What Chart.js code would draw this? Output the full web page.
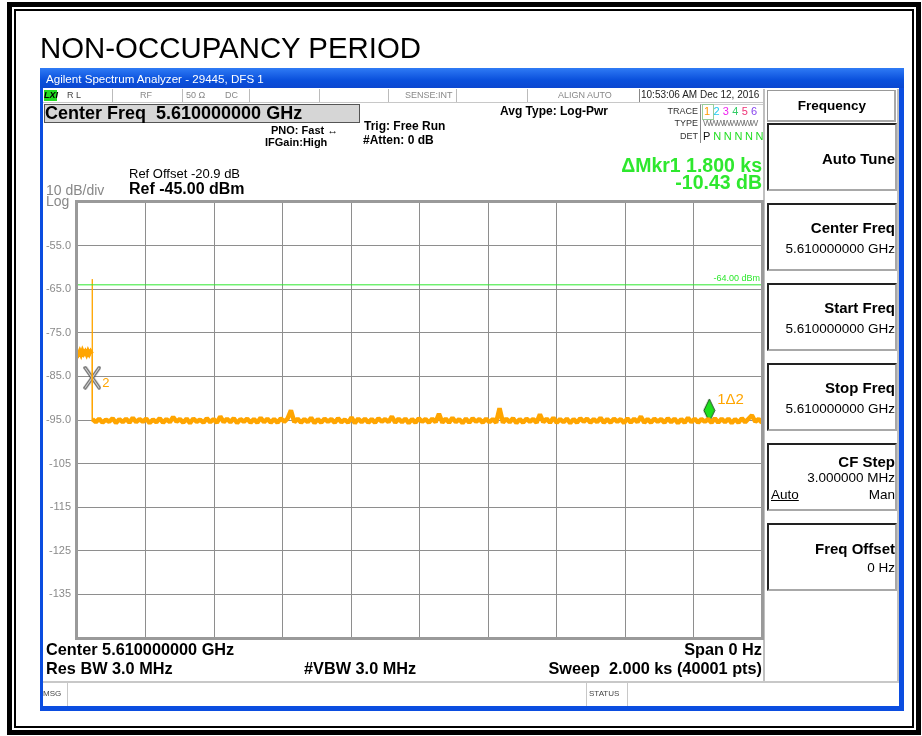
<!DOCTYPE html>
<html>
<head>
<meta charset="utf-8">
<title>Non-occupancy period</title>
<script src="https://cdn.jsdelivr.net/npm/chart.js@4.4.1/dist/chart.umd.min.js"></script>
<style>
  body { margin: 0; width: 922px; height: 736px; overflow: hidden; background: #fff; font-family: "Liberation Sans", Arial, sans-serif; }
  .abs { position: absolute; }
  .t { position: absolute; line-height: 1; white-space: nowrap; z-index: 3; }
  .b { font-weight: bold; }
  .key { position: absolute; left: 767px; width: 126px; background: #fff; border-top: 2px solid #222; border-left: 2px solid #222; border-bottom: 2px solid #a8a8a8; border-right: 2px solid #a8a8a8; z-index: 2; }
  #chartBox { position: absolute; left: 0; top: 0; width: 922px; height: 736px; z-index: 2; }
</style>
</head>
<body>
<!-- outer double frame -->
<div class="abs" style="left:7px;top:2px;width:914px;height:733px;box-sizing:border-box;border:5px solid #000;"></div>
<div class="abs" style="left:14px;top:9px;width:900px;height:719px;box-sizing:border-box;border:2px solid #000;"></div>

<div class="t" style="left:40px;top:33px;font-size:29.4px;">NON-OCCUPANCY PERIOD</div>

<!-- analyzer window -->
<div class="abs" style="left:40px;top:68px;width:864px;height:643px;background:#0b4de0;"></div>
<div class="abs" style="left:40px;top:68px;width:864px;height:20px;background:linear-gradient(#2f7bf5,#0a50dc 60%,#0b47d0);"></div>
<div class="abs" style="left:43px;top:88px;width:856px;height:618px;background:#fff;"></div>
<div class="t" style="left:46px;top:72.5px;font-size:11.6px;color:#fff;">Agilent Spectrum Analyzer - 29445, DFS 1</div>

<!-- status row -->
<div class="abs" style="left:43px;top:89px;width:721px;height:13px;border-bottom:1px solid #c8c8c8;"></div>
<div class="abs" style="left:44px;top:90px;width:13px;height:11px;background:#22dd22;"></div>
<div class="t b" style="left:44px;top:91px;font-size:9px;font-style:italic;">LXI</div>
<div class="t" style="left:67px;top:91px;font-size:9px;color:#444;">R L</div>
<div class="abs" style="left:112px;top:89px;width:1px;height:13px;background:#bbb;"></div>
<div class="t" style="left:140px;top:91px;font-size:9px;color:#888;">RF</div>
<div class="abs" style="left:182px;top:89px;width:1px;height:13px;background:#bbb;"></div>
<div class="t" style="left:186px;top:91px;font-size:9px;color:#888;">50 Ω</div>
<div class="t" style="left:225px;top:91px;font-size:9px;color:#888;">DC</div>
<div class="abs" style="left:249px;top:89px;width:1px;height:13px;background:#bbb;"></div>
<div class="abs" style="left:319px;top:89px;width:1px;height:13px;background:#bbb;"></div>
<div class="abs" style="left:388px;top:89px;width:1px;height:13px;background:#bbb;"></div>
<div class="t" style="left:405px;top:91px;font-size:9px;color:#888;">SENSE:INT</div>
<div class="abs" style="left:456px;top:89px;width:1px;height:13px;background:#bbb;"></div>
<div class="abs" style="left:527px;top:89px;width:1px;height:13px;background:#bbb;"></div>
<div class="t" style="left:558px;top:91px;font-size:9px;color:#888;">ALIGN AUTO</div>
<div class="abs" style="left:639px;top:89px;width:1px;height:13px;background:#888;"></div>
<div class="t" style="left:641px;top:90px;font-size:10px;color:#222;">10:53:06 AM Dec 12, 2016</div>

<!-- header readouts -->
<div class="abs" style="left:44px;top:104px;width:314px;height:17px;background:#d6d6d6;border:1px solid #555;"></div>
<div class="t b" style="left:45px;top:104px;font-size:18px;">Center Freq&nbsp; 5.610000000 GHz</div>
<div class="t b" style="left:271px;top:124.5px;font-size:11px;">PNO: Fast ↔</div>
<div class="t b" style="left:265px;top:136.5px;font-size:11px;">IFGain:High</div>
<div class="t b" style="left:364px;top:120px;font-size:12px;">Trig: Free Run</div>
<div class="t b" style="left:363px;top:134px;font-size:12px;">#Atten: 0 dB</div>
<div class="t b" style="left:500px;top:105px;font-size:12px;">Avg Type: Log-Pwr</div>

<div class="t" style="right:224px;top:106.5px;font-size:9px;color:#333;">TRACE</div>
<div class="t" style="right:224px;top:119px;font-size:9px;color:#333;">TYPE</div>
<div class="t" style="right:224px;top:131.5px;font-size:9px;color:#333;">DET</div>
<div class="abs" style="left:700px;top:104px;width:64px;height:38px;border-left:1px solid #888;border-top:1px solid #ccc;"></div>
<div class="abs" style="left:702px;top:104px;width:10px;height:14px;border:1px solid #9c9;"></div>
<div class="t" style="left:704px;top:105.5px;font-size:11px;letter-spacing:3.3px;"><span style="color:#ff9900">1</span><span style="color:#22ccee">2</span><span style="color:#ee22ee">3</span><span style="color:#33cc66">4</span><span style="color:#ee3377">5</span><span style="color:#8844ee">6</span></div>
<div class="t" style="left:703px;top:118.5px;font-size:9px;color:#777;letter-spacing:-1.8px;">WWWWWWWW</div>
<div class="t" style="left:703px;top:131px;font-size:11px;color:#111;">P <span style="color:#22dd22;letter-spacing:-0.2px;">N N N N N</span></div>

<div class="t b" style="right:160px;top:155.5px;font-size:19.5px;color:#2ee82e;">ΔMkr1 1.800 ks</div>
<div class="t b" style="right:160px;top:172.5px;font-size:19.5px;color:#2ee82e;">-10.43 dB</div>
<div class="t" style="left:129px;top:166.5px;font-size:13px;">Ref Offset -20.9 dB</div>
<div class="t b" style="left:129px;top:180.5px;font-size:16px;">Ref -45.00 dBm</div>
<div class="t" style="left:46px;top:183px;font-size:14px;color:#888;">10 dB/div</div>
<div class="t" style="left:46px;top:194px;font-size:14px;color:#888;">Log</div>

<!-- bottom readouts -->
<div class="t b" style="left:46px;top:641px;font-size:16.3px;">Center 5.610000000 GHz</div>
<div class="t b" style="left:46px;top:660px;font-size:16.3px;">Res BW 3.0 MHz</div>
<div class="t b" style="left:304px;top:660px;font-size:16.3px;">#VBW 3.0 MHz</div>
<div class="t b" style="right:160px;top:641px;font-size:16.3px;">Span 0 Hz</div>
<div class="t b" style="right:160px;top:660px;font-size:16.3px;">Sweep&nbsp; 2.000 ks (40001 pts)</div>

<div class="abs" style="left:43px;top:681px;width:856px;height:2px;background:#c8c8c8;"></div>
<div class="abs" style="left:67px;top:683px;width:1px;height:23px;background:#c8c8c8;"></div>
<div class="abs" style="left:586px;top:683px;width:1px;height:23px;background:#c8c8c8;"></div>
<div class="abs" style="left:627px;top:683px;width:1px;height:23px;background:#c8c8c8;"></div>
<div class="t" style="left:43px;top:690px;font-size:8px;color:#444;">MSG</div>
<div class="t" style="left:589px;top:690px;font-size:8px;color:#444;">STATUS</div>

<!-- softkey panel -->
<div class="abs" style="left:763px;top:89px;width:2px;height:592px;background:#c0c0c0;"></div>
<div class="abs" style="left:897px;top:89px;width:2px;height:592px;background:#c0c0c0;"></div>
<div class="key" style="top:90px;height:29px;border-top:1px solid #999;border-left:1px solid #999;"></div>
<div class="t b" style="left:767px;width:130px;text-align:center;top:98.5px;font-size:13.5px;">Frequency</div>
<div class="key" style="top:123px;height:64px;"></div>
<div class="t b" style="right:27px;top:150.5px;font-size:15px;">Auto Tune</div>
<div class="key" style="top:203px;height:64px;"></div>
<div class="t b" style="right:27px;top:219.5px;font-size:15px;">Center Freq</div>
<div class="t" style="right:27px;top:241.5px;font-size:13.5px;">5.610000000 GHz</div>
<div class="key" style="top:283px;height:64px;"></div>
<div class="t b" style="right:27px;top:299.5px;font-size:15px;">Start Freq</div>
<div class="t" style="right:27px;top:321.5px;font-size:13.5px;">5.610000000 GHz</div>
<div class="key" style="top:363px;height:64px;"></div>
<div class="t b" style="right:27px;top:379.5px;font-size:15px;">Stop Freq</div>
<div class="t" style="right:27px;top:401.5px;font-size:13.5px;">5.610000000 GHz</div>
<div class="key" style="top:443px;height:64px;"></div>
<div class="t b" style="right:27px;top:453.5px;font-size:15px;">CF Step</div>
<div class="t" style="right:27px;top:471px;font-size:13.5px;">3.000000 MHz</div>
<div class="t" style="left:771px;top:488px;font-size:13.5px;text-decoration:underline;">Auto</div>
<div class="t" style="right:27px;top:488px;font-size:13.5px;">Man</div>
<div class="key" style="top:523px;height:64px;"></div>
<div class="t b" style="right:27px;top:540.5px;font-size:15px;">Freq Offset</div>
<div class="t" style="right:27px;top:561px;font-size:13.5px;">0 Hz</div>

<div id="chartBox"><canvas id="specChart"></canvas></div>

<script>
// sweep: 0 .. 2000 s, zero span at 5.61 GHz
const sweepStart = 0;
const sweepEnd = 2000;
const refLevel = -45;
const bottomLevel = -145;
const yTickLabels = ['-135', '-125', '-115', '-105', '-95.0', '-85.0', '-75.0', '-65.0', '-55.0'];
const yTickValues = [-135, -125, -115, -105, -95, -85, -75, -65, -55];

// trace before the burst ends (dBm)
const preTimes = [0, 4, 8, 12, 16, 20, 24, 28, 32, 36, 40, 44];
const preLevels = [-79.3, -79.9, -79.2, -80.0, -79.1, -79.8, -79.3, -80.0, -79.2, -79.9, -79.3, -79.8];

// the last pulse
const spikeTimes = [44.2, 44.5, 44.8];
const spikeLevels = [-80.0, -62.7, -95.3];

// noise floor after the channel is vacated
const floorStart = 45;
const floorEnd = 2000;
const floorLevels = [
  -94.8, -95.5, -94.7, -95.6, -94.9, -95.4, -94.6, -95.7, -94.8, -95.5,
  -94.7, -95.6, -94.5, -95.5, -94.8, -95.4, -94.7, -95.7, -94.9, -95.5,
  -94.6, -95.6, -94.8, -95.5, -94.3, -95.4, -94.8, -95.6, -94.7, -95.7,
  -94.7, -95.4, -94.9, -95.6, -94.6, -95.5, -94.8, -95.6, -94.2, -95.5,
  -94.7, -95.5, -94.6, -95.7, -94.8, -95.4, -94.7, -95.6, -94.8, -95.6,
  -94.5, -95.5, -94.7, -95.6, -94.8, -95.6, -94.6, -95.4, -94.7, -92.8,
  -95.5, -94.7, -95.6, -94.8, -95.5, -94.5, -95.7, -94.8, -95.6, -94.7,
  -95.4, -94.8, -95.6, -94.6, -95.5, -94.9, -95.6, -94.4, -95.7, -94.7,
  -95.5, -94.7, -95.6, -94.8, -95.6, -94.6, -95.4, -94.8, -95.5, -94.2,
  -95.6, -94.7, -95.5, -94.7, -95.7, -94.8, -95.6, -94.6, -95.4, -94.8,
  -95.6, -94.7, -95.5, -93.6, -95.6, -94.7, -95.6, -94.5, -95.5, -94.8,
  -95.7, -94.7, -95.6, -94.6, -95.4, -94.8, -95.6, -94.7, -95.5, -94.8,
  -95.6, -92.3, -95.6, -94.7, -95.5, -94.6, -95.7, -94.8, -95.6, -94.7,
  -95.4, -94.8, -95.6, -93.7, -95.5, -94.7, -95.6, -94.5, -95.6, -94.8,
  -95.5, -94.7, -95.7, -94.8, -95.6, -94.6, -95.4, -94.7, -95.6, -94.8,
  -95.5, -94.5, -95.6, -94.8, -95.6, -94.7, -95.4, -94.8, -95.7, -94.6,
  -95.6, -94.7, -95.5, -94.2, -95.6, -94.8, -95.6, -94.7, -95.4, -94.8,
  -95.6, -94.6, -95.5, -94.7, -95.7, -94.8, -95.6, -94.5, -95.5, -94.7,
  -95.6, -94.8, -95.4, -94.8, -95.6, -94.6, -95.6, -94.7, -95.5, -94.7,
  -95.7, -94.8, -95.6, -94.6, -95.5, -94.7, -93.9, -95.4, -94.8, -95.6
];

// display line and markers
const displayLine = -64;
const markerNames = ['2', '1Δ2'];
const markerTimes = [44.5, 1846];
const markerLevels = [-85.3, -92.8];

const orange = '#ffa500';
const green = '#2ee82e';

const floorStep = (floorEnd - floorStart) / (floorLevels.length - 1);
const floorPoints = floorLevels.map((v, i) => ({ x: floorStart + i * floorStep, y: v }));
const prePoints = preLevels.map((v, i) => ({ x: preTimes[i], y: v }));
const spikePoints = spikeLevels.map((v, i) => ({ x: spikeTimes[i], y: v }));

// marker glyphs
const xMark = document.createElement('canvas');
xMark.width = 18; xMark.height = 24;
(function () {
  const c = xMark.getContext('2d');
  c.lineCap = 'round';
  [['#444', 3.2], ['#fff', 1.2]].forEach(([col, w]) => {
    c.strokeStyle = col; c.lineWidth = w;
    c.beginPath();
    c.moveTo(2, 2); c.lineTo(16, 22);
    c.moveTo(16, 2); c.lineTo(2, 22);
    c.stroke();
  });
})();
const diamond = document.createElement('canvas');
diamond.width = 13; diamond.height = 25;
(function () {
  const c = diamond.getContext('2d');
  c.beginPath();
  c.moveTo(6.5, 1); c.lineTo(12, 12.5); c.lineTo(6.5, 24); c.lineTo(1, 12.5); c.closePath();
  c.fillStyle = '#1ee01e'; c.fill();
  c.strokeStyle = '#1a4a1a'; c.lineWidth = 1; c.stroke();
})();

const analyzerDecor = {
  id: 'analyzerDecor',
  afterDatasetsDraw(chart) {
    const { ctx, chartArea: a, scales: { x, y } } = chart;
    ctx.save();
    ctx.strokeStyle = '#9a9a9a';
    ctx.lineWidth = 3;
    ctx.strokeRect(a.left - 0.5, a.top - 0.5, a.right - a.left + 1, a.bottom - a.top + 1);

    ctx.fillStyle = green;
    ctx.font = '9px "Liberation Sans"';
    ctx.textAlign = 'right';
    ctx.textBaseline = 'bottom';
    ctx.fillText(displayLine.toFixed(2) + ' dBm', a.right - 2, y.getPixelForValue(displayLine) - 2);

    ctx.fillStyle = orange;
    ctx.textAlign = 'left';
    ctx.textBaseline = 'middle';
    ctx.font = '13px "Liberation Sans"';
    ctx.fillText(markerNames[0], x.getPixelForValue(markerTimes[0]) + 10, y.getPixelForValue(markerLevels[0]) + 6);
    ctx.font = '15px "Liberation Sans"';
    ctx.fillText(markerNames[1], x.getPixelForValue(markerTimes[1]) + 8, y.getPixelForValue(markerLevels[1]) - 11);
    ctx.restore();
  }
};

new Chart(document.getElementById('specChart'), {
  type: 'line',
  data: {
    datasets: [
      {
        data: [{ x: sweepStart, y: displayLine }, { x: sweepEnd, y: displayLine }],
        borderColor: green, borderWidth: 1, pointRadius: 0
      },
      { data: prePoints, borderColor: orange, borderWidth: 4, pointRadius: 0 },
      { data: spikePoints, borderColor: orange, borderWidth: 1, pointRadius: 0 },
      { data: floorPoints, borderColor: orange, borderWidth: 4.5, pointRadius: 0, borderJoinStyle: 'bevel' },
      {
        data: markerTimes.map((t, i) => ({ x: t, y: markerLevels[i] })),
        showLine: false,
        pointStyle: [xMark, diamond],
        pointRadius: 10,
        clip: false
      }
    ]
  },
  options: {
    animation: false,
    responsive: true,
    maintainAspectRatio: false,
    layout: { padding: { left: 37, right: 160, top: 202, bottom: 98 } },
    plugins: { legend: { display: false }, tooltip: { enabled: false } },
    scales: {
      x: {
        type: 'linear',
        min: sweepStart,
        max: sweepEnd,
        ticks: { display: false, stepSize: 200 },
        grid: { color: '#8e8e8e', drawTicks: false },
        border: { display: false },
        afterFit: a => { a.height = 0; }
      },
      y: {
        min: bottomLevel,
        max: refLevel,
        ticks: {
          stepSize: 10,
          padding: 6,
          color: '#8a8a8a',
          font: { family: 'Liberation Sans', size: 11 },
          callback: v => {
            const i = yTickValues.indexOf(v);
            return i < 0 ? '' : yTickLabels[i];
          }
        },
        grid: { color: '#8e8e8e', drawTicks: false },
        border: { display: false },
        afterFit: a => { a.width = 40; }
      }
    }
  },
  plugins: [analyzerDecor]
});
</script>
</body>
</html>
